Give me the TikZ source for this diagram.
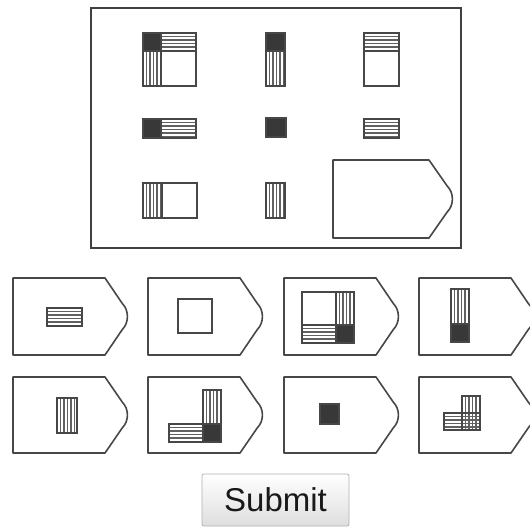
\documentclass[tikz,border=0pt]{standalone}
\usepackage{fontspec}
\setmainfont{Liberation Sans}
\begin{document}
\begin{tikzpicture}[x=1pt,y=-1pt,
  frame/.style={draw=black!75,line width=1.4pt},
  shp/.style={draw=black!72,line width=1.6pt,line join=round},
  cell/.style={draw=black!72,line width=1.2pt},
  stripe/.style={draw=black!62,line width=1.05pt},
  darkfill/.style={fill=black!78},
  btn/.style={draw=black!30,line width=0.8pt,rounded corners=2pt,
    top color=white,bottom color=black!13,minimum width=147pt,minimum height=52pt,
    inner sep=0pt,text=black!90,font=\fontsize{33}{36}\selectfont}]
\clip (0,0) rectangle (530,527);
\fill[white] (0,0) rectangle (530,527);
% helpers
\newcommand{\hstr}[4]{%
  \fill[white] (#1,#2) rectangle (#3,#4);
  \begin{scope}\clip (#1,#2) rectangle (#3,#4);
  \foreach \i in {1,...,12}{\draw[stripe] (#1,{#2+\i*3.5}) -- (#3,{#2+\i*3.5});}
  \end{scope}
  \draw[cell] (#1,#2) rectangle (#3,#4);}
\newcommand{\vstr}[4]{%
  \fill[white] (#1,#2) rectangle (#3,#4);
  \begin{scope}\clip (#1,#2) rectangle (#3,#4);
  \foreach \i in {1,...,12}{\draw[stripe] ({#1+\i*3.5},#2) -- ({#1+\i*3.5},#4);}
  \end{scope}
  \draw[cell] (#1,#2) rectangle (#3,#4);}
\newcommand{\xstr}[4]{%
  \fill[white] (#1,#2) rectangle (#3,#4);
  \begin{scope}\clip (#1,#2) rectangle (#3,#4);
  \foreach \i in {1,...,12}{\draw[stripe] ({#1+\i*3.5},#2) -- ({#1+\i*3.5},#4);
    \draw[stripe] (#1,{#2+\i*3.5}) -- (#3,{#2+\i*3.5});}
  \end{scope}
  \draw[cell] (#1,#2) rectangle (#3,#4);}
\newcommand{\dkbox}[4]{\filldraw[cell,darkfill] (#1,#2) rectangle (#3,#4);}
\newcommand{\wtbox}[4]{\filldraw[cell,fill=white] (#1,#2) rectangle (#3,#4);}
\newcommand{\pentshape}[4]{%
  \draw[shp] (#1,#2) -- ({#1+#3-0.2*#3},#2) -- ({#1+#3-0.05*#3},{#2+0.33*#4})
   .. controls ({#1+#3+0.01*#3},{#2+0.42*#4}) and ({#1+#3+0.01*#3},{#2+0.58*#4}) ..
   ({#1+#3-0.05*#3},{#2+0.67*#4}) -- ({#1+#3-0.2*#3},{#2+#4}) -- (#1,{#2+#4}) -- cycle;}
% main frame
\draw[frame] (91,8) rectangle (461,248);
% row 1
\dkbox{143}{33}{161}{51}\hstr{161}{33}{196}{51}\vstr{143}{51}{161}{86}\wtbox{161}{51}{196}{86}
\dkbox{266}{33}{285}{51}\vstr{266}{51}{285}{86}
\hstr{364}{33}{399}{51}\wtbox{364}{51}{399}{86}
% row 2
\dkbox{143}{119}{161}{138}\hstr{161}{119}{196}{138}
\dkbox{266}{118}{286}{137}
\hstr{364}{119}{399}{138}
% row 3
\vstr{143}{183}{162}{218}\wtbox{162}{183}{197}{218}
\vstr{266}{183}{285}{218}
\pentshape{333}{160}{120}{78}
% options row 1
\pentshape{13}{278}{115}{77}
\pentshape{148}{278}{115}{77}
\pentshape{284}{278}{115}{77}
\pentshape{419}{278}{115}{77}
\hstr{47}{308}{82}{326}
\wtbox{178}{299}{212}{333}
\wtbox{302}{292}{336}{325}\vstr{336}{292}{354}{325}\hstr{302}{325}{336}{343}\dkbox{336}{325}{354}{343}
\vstr{451}{289}{469}{324}\dkbox{451}{324}{469}{342}
% options row 2
\pentshape{13}{377}{115}{76}
\pentshape{148}{377}{115}{76}
\pentshape{284}{377}{115}{76}
\pentshape{419}{377}{115}{76}
\vstr{57}{398}{77}{433}
\vstr{203}{390}{221}{424}\hstr{169}{424}{203}{442}\dkbox{203}{424}{221}{442}
\dkbox{320}{404}{339}{424}
\vstr{462}{396}{480}{413}\hstr{444}{413}{462}{430}\xstr{462}{413}{480}{430}
% submit button
\node[btn] (submit) at (275.5,500) {Submit};
\end{tikzpicture}
\end{document}
